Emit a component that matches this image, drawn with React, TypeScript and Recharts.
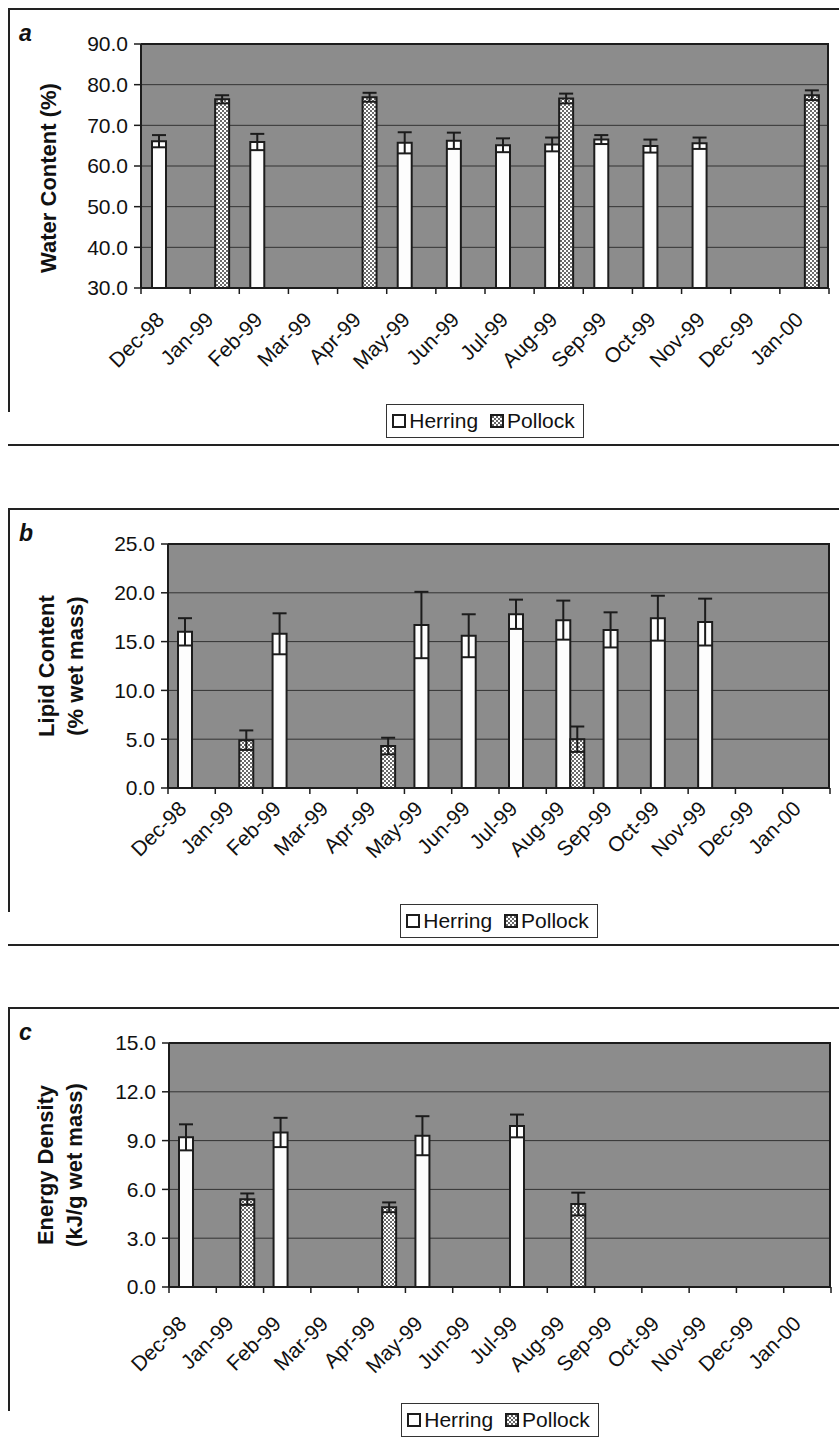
import React from 'react';
import { BarChart, Bar, XAxis, YAxis, CartesianGrid, ErrorBar, Legend } from 'recharts';

// ---------- data ----------
const months = ['Dec-98', 'Jan-99', 'Feb-99', 'Mar-99', 'Apr-99', 'May-99', 'Jun-99', 'Jul-99', 'Aug-99', 'Sep-99', 'Oct-99', 'Nov-99', 'Dec-99', 'Jan-00'];

const waterHerring = [66.1, null, 65.9, null, null, 65.7, 66.2, 65.1, 65.3, 66.5, 64.9, 65.6, null, null];
const waterHerringErr = [1.5, null, 2.0, null, null, 2.6, 2.0, 1.7, 1.7, 1.1, 1.6, 1.4, null, null];
const waterPollock = [null, 76.4, null, null, 76.9, null, null, null, 76.6, null, null, null, null, 77.4];
const waterPollockErr = [null, 1.0, null, null, 1.1, null, null, null, 1.2, null, null, null, null, 1.2];

const lipidHerring = [16.0, null, 15.8, null, null, 16.7, 15.6, 17.8, 17.2, 16.2, 17.4, 17.0, null, null];
const lipidHerringErr = [1.4, null, 2.1, null, null, 3.4, 2.2, 1.5, 2.0, 1.8, 2.3, 2.4, null, null];
const lipidPollock = [null, 4.9, null, null, 4.3, null, null, null, 5.0, null, null, null, null, null];
const lipidPollockErr = [null, 1.0, null, null, 0.85, null, null, null, 1.3, null, null, null, null, null];

const energyHerring = [9.2, null, 9.5, null, null, 9.3, null, 9.9, null, null, null, null, null, null];
const energyHerringErr = [0.8, null, 0.9, null, null, 1.2, null, 0.7, null, null, null, null, null, null];
const energyPollock = [null, 5.4, null, null, 4.9, null, null, null, 5.1, null, null, null, null, null];
const energyPollockErr = [null, 0.35, null, null, 0.3, null, null, null, 0.7, null, null, null, null, null];

const waterTicks = [30, 40, 50, 60, 70, 80, 90];
const lipidTicks = [0, 5, 10, 15, 20, 25];
const energyTicks = [0, 3, 6, 9, 12, 15];

const seriesNames = ['Herring', 'Pollock'];

// ---------- style ----------
const FONT = '"Liberation Sans", Arial, Helvetica, sans-serif';
const W = 839;
const H = 450;
const PLOT_TOP = 44;
const PLOT_BOTTOM = 288;
const INK = '#1c1c1c';
const BG = '#8c8c8c';

type Row = { month: string; herring: number | null; herringErr: number | null; pollock: number | null; pollockErr: number | null };

function buildRows(h: (number | null)[], he: (number | null)[], p: (number | null)[], pe: (number | null)[]): Row[] {
  return months.map((m, i) => ({ month: m, herring: h[i], herringErr: he[i], pollock: p[i], pollockErr: pe[i] }));
}

const Swatch = ({ kind }: { kind: 'h' | 'p' }) => (
  <svg width={14} height={14} style={{ display: 'block' }}>
    <defs>
      <pattern id={`sw-${kind}`} width={4} height={4} patternUnits="userSpaceOnUse">
        <rect width={4} height={4} fill="#fff" />
        <rect x={0} y={0} width={2} height={2} fill="#666" />
        <rect x={2} y={2} width={2} height={2} fill="#666" />
      </pattern>
    </defs>
    <rect x={1} y={1} width={12} height={12} fill={kind === 'h' ? '#fff' : `url(#sw-${kind})`} stroke={INK} strokeWidth={2} />
  </svg>
);

const LegendBox = () => (
  <div style={{ display: 'flex', justifyContent: 'center' }}>
    <div
      style={{
        display: 'inline-flex',
        alignItems: 'center',
        height: 34,
        boxSizing: 'border-box',
        border: '1.5px solid #333',
        background: '#fff',
        padding: '0 8px 0 5px',
        fontFamily: FONT,
        fontSize: 21,
        color: '#111',
        gap: 3,
      }}
    >
      <Swatch kind="h" />
      <span>{seriesNames[0]}</span>
      <span style={{ width: 6 }} />
      <Swatch kind="p" />
      <span>{seriesNames[1]}</span>
    </div>
  </div>
);

type PanelProps = {
  top: number;
  letter: string;
  data: Row[];
  domain: [number, number];
  ticks: number[];
  plotLeft: number;
  plotRight: number;
  titles: string[];
  titleX: number[];
  titleY: number;
  barSize: number;
  labelDx: number;
  labelDy: number;
  uid: string;
};

function Panel({ top, letter, data, domain, ticks, plotLeft, plotRight, titles, titleX, titleY, barSize, labelDx, labelDy, uid }: PanelProps) {
  const bw = (plotRight - plotLeft) / months.length;
  const XTick = (props: any) => {
    const { x, payload, index } = props;
    const ax = x + labelDx;
    const ay = PLOT_BOTTOM + labelDy;
    return (
      <g>
        <line x1={x - bw / 2} x2={x - bw / 2} y1={PLOT_BOTTOM} y2={PLOT_BOTTOM + 6} stroke={INK} strokeWidth={1.5} />
        {index === months.length - 1 && (
          <line x1={x + bw / 2} x2={x + bw / 2} y1={PLOT_BOTTOM} y2={PLOT_BOTTOM + 6} stroke={INK} strokeWidth={1.5} />
        )}
        <text x={ax} y={ay} transform={`rotate(-45, ${ax}, ${ay})`} textAnchor="end" fontSize={21} fontFamily={FONT} fill="#111">
          {payload.value}
        </text>
      </g>
    );
  };
  const titleLabel = () => (
    <g>
      {titles.map((t, i) => (
        <text
          key={i}
          x={titleX[i]}
          y={titleY}
          transform={`rotate(-90, ${titleX[i]}, ${titleY})`}
          textAnchor="middle"
          dominantBaseline="central"
          fontWeight="bold"
          fontSize={22}
          fontFamily={FONT}
          fill="#111"
        >
          {t}
        </text>
      ))}
    </g>
  );
  return (
    <div style={{ position: 'absolute', left: 0, top, width: W, height: H }}>
      {/* panel frame */}
      <div style={{ position: 'absolute', left: 8, top: 8, width: W - 8, height: 2, background: '#222' }} />
      <div style={{ position: 'absolute', left: 8, top: 8, width: 2, height: 404, background: '#222' }} />
      <div style={{ position: 'absolute', left: 8, top: 444, width: W - 8, height: 2, background: '#222' }} />
      <div
        style={{
          position: 'absolute',
          left: 19,
          top: 20,
          fontFamily: FONT,
          fontWeight: 'bold',
          fontStyle: 'italic',
          fontSize: 23,
          color: '#111',
          lineHeight: '26px',
        }}
      >
        {letter}
      </div>
      <div style={{ position: 'absolute', left: 0, top: 0 }}>
        <BarChart
          width={W}
          height={H}
          data={data}
          margin={{ top: PLOT_TOP, right: W - plotRight, bottom: H - PLOT_BOTTOM - 60, left: 0 }}
          barGap={0}
        >
          <defs>
            <pattern id={`dots-${uid}`} width={4} height={4} patternUnits="userSpaceOnUse">
              <rect width={4} height={4} fill="#ffffff" />
              <rect x={0} y={0} width={2} height={2} fill="#6a6a6a" />
              <rect x={2} y={2} width={2} height={2} fill="#6a6a6a" />
            </pattern>
          </defs>
          <CartesianGrid vertical={false} fill={BG} fillOpacity={1} stroke="#333" strokeWidth={1} />
          <XAxis
            dataKey="month"
            type="category"
            interval={0}
            height={60}
            tickLine={false}
            axisLine={{ stroke: INK, strokeWidth: 2 }}
            tick={<XTick />}
          />
          <YAxis
            type="number"
            domain={domain}
            ticks={ticks}
            allowDataOverflow
            width={plotLeft}
            tickFormatter={(v: number) => v.toFixed(1)}
            tick={{ fontSize: 21, fill: '#111', fontFamily: FONT }}
            tickSize={7}
            tickMargin={6}
            tickLine={{ stroke: INK, strokeWidth: 1.5 }}
            axisLine={{ stroke: INK, strokeWidth: 2 }}
            label={titleLabel}
          />
          <Legend
            verticalAlign="middle"
            content={() => <LegendBox />}
            wrapperStyle={{ top: 404, left: plotLeft, width: plotRight - plotLeft }}
          />
          <Bar dataKey="herring" name={seriesNames[0]} fill="#fdfdfd" stroke={INK} strokeWidth={2} barSize={barSize} isAnimationActive={false}>
            <ErrorBar dataKey="herringErr" width={7} stroke={INK} strokeWidth={2} direction="y" />
          </Bar>
          <Bar dataKey="pollock" name={seriesNames[1]} fill={`url(#dots-${uid})`} stroke={INK} strokeWidth={2} barSize={barSize} isAnimationActive={false}>
            <ErrorBar dataKey="pollockErr" width={7} stroke={INK} strokeWidth={2} direction="y" />
          </Bar>
        </BarChart>
      </div>
      {/* plot-area top / right border */}
      <div
        style={{
          position: 'absolute',
          left: plotLeft,
          top: PLOT_TOP - 1,
          width: plotRight - plotLeft,
          height: PLOT_BOTTOM - PLOT_TOP,
          borderTop: `2px solid ${INK}`,
          borderRight: `2px solid ${INK}`,
          boxSizing: 'border-box',
          pointerEvents: 'none',
        }}
      />
    </div>
  );
}

const waterRows = buildRows(waterHerring, waterHerringErr, waterPollock, waterPollockErr);
const lipidRows = buildRows(lipidHerring, lipidHerringErr, lipidPollock, lipidPollockErr);
const energyRows = buildRows(energyHerring, energyHerringErr, energyPollock, energyPollockErr);

export default function App() {
  return (
    <div style={{ position: 'absolute', left: 0, top: 0, width: W, height: 1440, background: '#fff', overflow: 'hidden' }}>
      <Panel
        uid="a"
        top={0}
        letter="a"
        data={waterRows}
        domain={[30, 90]}
        ticks={waterTicks}
        plotLeft={141}
        plotRight={829}
        titles={['Water Content (%)']}
        titleX={[48]}
        titleY={178}
        barSize={14}
        labelDx={0}
        labelDy={33}
      />
      <Panel
        uid="b"
        top={500}
        letter="b"
        data={lipidRows}
        domain={[0, 25]}
        ticks={lipidTicks}
        plotLeft={168}
        plotRight={830}
        titles={['Lipid Content', '(% wet mass)']}
        titleX={[46, 75]}
        titleY={166}
        barSize={14}
        labelDx={-4}
        labelDy={22}
      />
      <Panel
        uid="c"
        top={999}
        letter="c"
        data={energyRows}
        domain={[0, 15]}
        ticks={energyTicks}
        plotLeft={169}
        plotRight={831}
        titles={['Energy Density', '(kJ/g wet mass)']}
        titleX={[45, 74]}
        titleY={166}
        barSize={14}
        labelDx={-5}
        labelDy={38}
      />
    </div>
  );
}
